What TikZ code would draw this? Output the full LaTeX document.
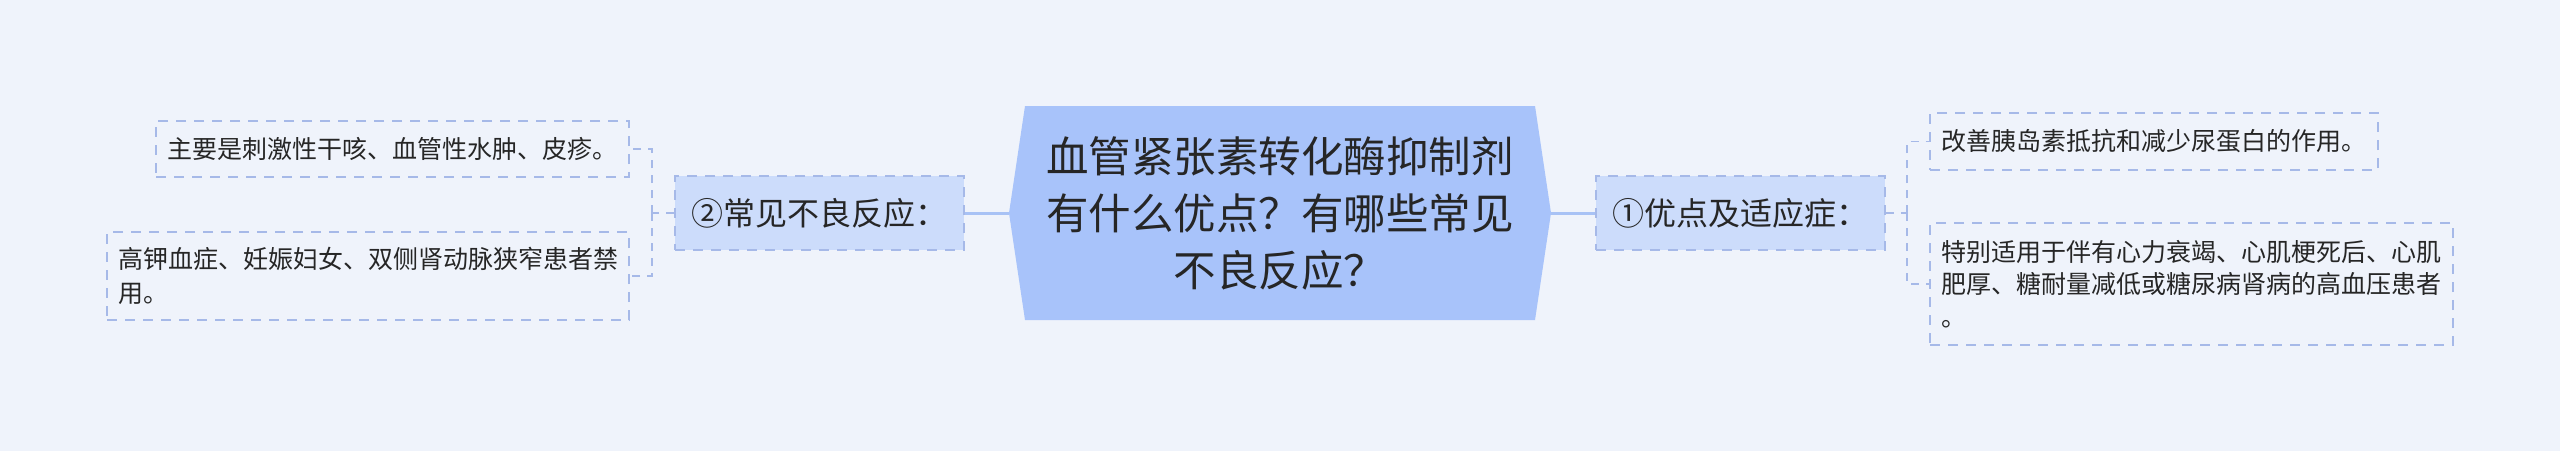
\documentclass[tikz,border=0pt]{standalone}
\usepackage{fontspec}
\setmainfont{Noto Sans CJK SC}
\usetikzlibrary{calc}
\definecolor{bgc}{RGB}{239,243,251}
\definecolor{ctrc}{RGB}{168,195,250}
\definecolor{subc}{RGB}{204,220,251}
\definecolor{dashc}{RGB}{166,185,232}
\definecolor{linec}{RGB}{168,194,245}
\definecolor{txt}{RGB}{38,38,38}
\begin{document}
\begin{tikzpicture}[x=1pt,y=-1pt,
  leaf/.style={draw=dashc, line width=1.8pt, dash pattern=on 10pt off 8pt,
    inner xsep=11.5pt, inner ysep=0pt, align=left, text=txt,
    font=\fontsize{25}{33}\selectfont},
  subbox/.style={draw=dashc, fill=subc, line width=1.8pt, dash pattern=on 10pt off 8pt,
    minimum width=289pt, minimum height=74pt, inner sep=0pt, text=txt,
    font=\fontsize{32}{38}\selectfont},
  conn/.style={draw=dashc, line width=1.8pt, dash pattern=on 8pt off 7pt},
  mainconn/.style={draw=linec, line width=3pt}
]
\fill[bgc] (0,0) rectangle (2560,451);
\useasboundingbox (0,0) rectangle (2560,451);

% central hexagon
\fill[ctrc] (1009,213) -- (1025,106) -- (1535,106) -- (1551,213) -- (1535,320) -- (1025,320) -- cycle;
\node[minimum width=542pt, minimum height=214pt, inner sep=0pt, align=center, text=txt,
  font=\fontsize{42.5}{57}\selectfont] (c) at (1280,213)
  {血管紧张素转化酶抑制剂\\有什么优点？有哪些常见\\不良反应？};

% sub nodes
\node[subbox] (s2) at (819.5,213) {②常见不良反应：};
\node[subbox] (s1) at (1740.5,213) {①优点及适应症：};

% leaves
\node[leaf, text width=450pt, minimum height=56pt] (L1) at (392.5,149)
  {主要是刺激性干咳、血管性水肿、皮疹。};
\node[leaf, text width=500pt, inner xsep=11pt, minimum height=88pt, font=\fontsize{25}{34}\selectfont] (L2) at (368,276)
  {高钾血症、妊娠妇女、双侧肾动脉狭窄患者禁\\用。};
\node[leaf, text width=425pt, minimum height=57pt] (R1) at (2154,141.5)
  {改善胰岛素抵抗和减少尿蛋白的作用。};
\node[leaf, text width=500pt, minimum height=122pt, font=\fontsize{25}{32.5}\selectfont] (R2) at (2191.5,284)
  {特别适用于伴有心力衰竭、心肌梗死后、心肌\\肥厚、糖耐量减低或糖尿病肾病的高血压患者\\。};

% connectors
\draw[mainconn] (c.west) -- (s2.east);
\draw[mainconn] (c.east) -- (s1.west);

\coordinate (jl) at (652,213);
\draw[conn] (s2.west) -- (jl);
\draw[conn] (jl) |- (L1.east);
\draw[conn] (jl) |- (L2.east);

\coordinate (jr) at (1907,213);
\draw[conn] (s1.east) -- (jr);
\draw[conn] (jr) |- (R1.west);
\draw[conn] (jr) |- (R2.west);
\end{tikzpicture}
\end{document}
